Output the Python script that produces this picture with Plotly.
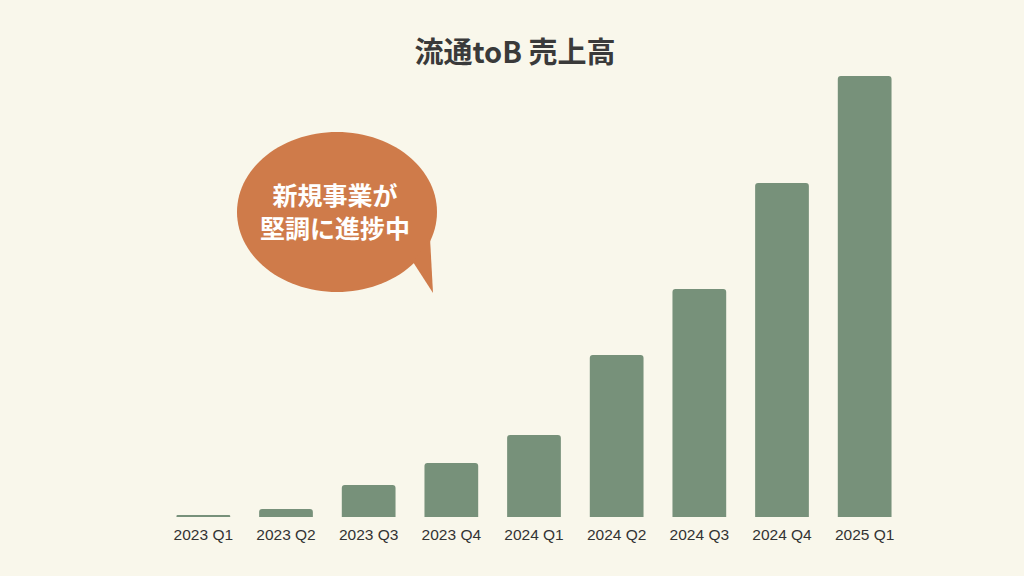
import numpy as np
import plotly.graph_objects as go

categories = ["2023 Q1", "2023 Q2", "2023 Q3", "2023 Q4", "2024 Q1",
              "2024 Q2", "2024 Q3", "2024 Q4", "2025 Q1"]
sales = [1.5, 8, 32, 54, 82, 162, 228, 334, 441]
title_text = "流通toB 売上高"
bubble_lines = ["新規事業が", "堅調に進捗中"]

W, H = 1024, 576
L, R, T, B = 162, 118, 60, 59
PW, PH = W - L - R, H - T - B

BG = "#f9f7eb"
BAR = "#77917a"
BUBBLE = "#cf7b4a"


def px2paper(x, y):
    return (x - L) / PW, (H - B - y) / PH


fig = go.Figure(go.Bar(x=categories, y=sales, marker_color=BAR,
                       marker_line_width=0))

# speech bubble (ellipse + tail) in pixel space converted to paper
cx, cy, rx, ry = 337, 212, 100, 80
t = np.linspace(0, 2 * np.pi, 121)
pts = [(cx + rx * np.cos(a), cy + ry * np.sin(a)) for a in t]
path = "M " + " L ".join(f"{px2paper(x, y)[0]:.5f},{px2paper(x, y)[1]:.5f}" for x, y in pts) + " Z"
tail = [(413, 262), (433, 293), (430, 238)]
tail_path = "M " + " L ".join(f"{px2paper(x, y)[0]:.5f},{px2paper(x, y)[1]:.5f}" for x, y in tail) + " Z"
for p in (path, tail_path):
    fig.add_shape(type="path", path=p, xref="paper", yref="paper",
                  fillcolor=BUBBLE, line_width=0, layer="above")

xp, yp = px2paper(335, 210.5)
fig.add_annotation(text="<br>".join(f"<b>{s}</b>" for s in bubble_lines),
                   x=xp, y=yp, xref="paper", yref="paper",
                   showarrow=False, xanchor="center", yanchor="middle",
                   align="center",
                   font=dict(family="Noto Sans CJK JP", size=25, color="white"))

fig.update_layout(
    width=W, height=H,
    margin=dict(l=L, r=R, t=T, b=B),
    paper_bgcolor=BG, plot_bgcolor=BG,
    bargap=0.35, barcornerradius=3,
    showlegend=False,
    title=dict(text=f"<b>{title_text}</b>", x=515 / W, xref="container",
               xanchor="center", y=1 - 53 / H, yanchor="middle",
               font=dict(family="Noto Sans CJK JP", size=29, color="#3a3a3a")),
    xaxis=dict(showgrid=False, zeroline=False, showline=False, ticks="",
               ticklabelstandoff=6,
               tickfont=dict(family="Liberation Sans", size=15.5, color="#333333")),
    yaxis=dict(visible=False, range=[0, PH], showgrid=False, zeroline=False),
)

fig.write_html("out.html", config={"displayModeBar": False},
               post_script="document.body.style.margin='0';"
                           "document.body.style.background='#f9f7eb';")
